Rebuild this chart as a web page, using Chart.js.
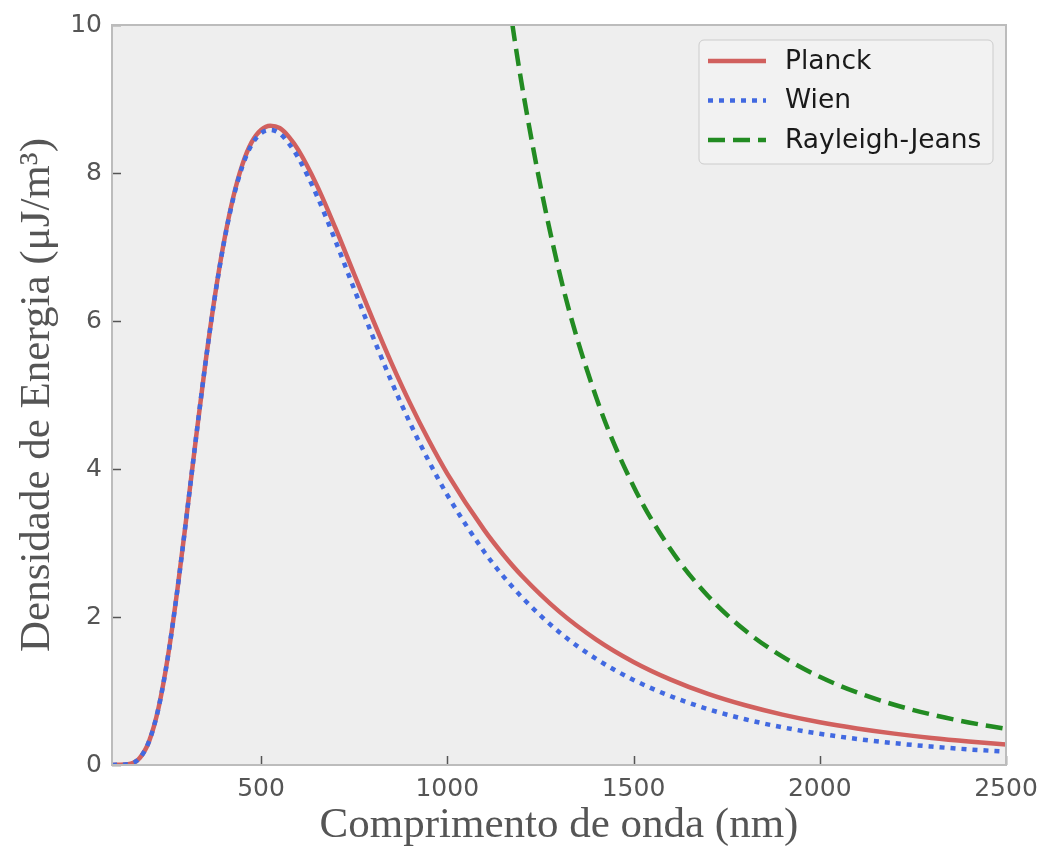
<!DOCTYPE html>
<html>
<head>
<meta charset="utf-8">
<script src="https://cdn.jsdelivr.net/npm/chart.js@4/dist/chart.umd.min.js"></script>
<style>
  body { margin: 0; background: #ffffff; }
  #grafico { display: block; }
</style>
</head>
<body>
<canvas id="grafico" width="1041" height="847"></canvas>
<script>
var lunghezzeOnda = [100, 150, 175, 200, 225, 250, 275, 300, 325, 350, 375, 400, 425, 450, 475, 500, 525, 550, 575, 600,
    650, 700, 750, 800, 850, 900, 950, 1000, 1100, 1150, 1200, 1300, 1400, 1500, 1600, 1700, 1800, 1900, 2000, 2100,
    2200, 2300, 2400, 2500];

// valori (uJ/m3)
var planck = [0, 0.018, 0.098, 0.326, 0.773, 1.46, 2.347, 3.357, 4.40, 5.40, 6.296, 7.055, 7.662, 8.113, 8.417, 8.583, 8.64, 8.608, 8.488, 8.312,
    7.833, 7.254, 6.635, 6.022, 5.435, 4.89, 4.391, 3.938, 3.17, 2.845, 2.558, 2.076, 1.695, 1.393, 1.154, 0.961, 0.807, 0.681, 0.578, 0.494,
    0.424, 0.366, 0.318, 0.277];
var wien = [0, 0.018, 0.098, 0.326, 0.773, 1.46, 2.347, 3.356, 4.399, 5.397, 6.29, 7.045, 7.646, 8.089, 8.383, 8.537, 8.581, 8.534, 8.398, 8.206,
    7.693, 7.081, 6.432, 5.793, 5.185, 4.623, 4.111, 3.65, 2.876, 2.553, 2.269, 1.798, 1.433, 1.15, 0.929, 0.755, 0.618, 0.509, 0.422, 0.352,
    0.295, 0.249, 0.211, 0.18];
var rayleighJeans = [null, null, null, null, null, null, null, null, null, null, null, null, null, null, null, null, null, null, null, null,
    null, null, null, null, null, null, null, null, 13.03, 10.91, 9.2, 6.679, 4.966, 3.768, 2.911, 2.284, 1.817, 1.464, 1.192, 0.981,
    0.814, 0.682, 0.575, 0.488];

var nomiSerie = ['Planck', 'Wien', 'Rayleigh-Jeans'];
var tickX = [500, 1000, 1500, 2000, 2500];
var tickY = [0, 2, 4, 6, 8, 10];

function creaPunti(valori) {    // trasforma le due liste in punti {x, y}
    var punti = [];
    for (var i = 0; i < lunghezzeOnda.length; i++) {
        punti.push({ x: lunghezzeOnda[i], y: valori[i] });
    }
    return punti;
}

// sfondo grigio, tacche interne e bordo dell'area del grafico
var pluginRiquadro = {
    id: 'riquadro',
    beforeDraw: function (chart) {
        var a = chart.chartArea;
        var ctx = chart.ctx;
        ctx.save();
        ctx.fillStyle = '#eeeeee';
        ctx.fillRect(a.left, a.top, a.right - a.left, a.bottom - a.top);
        ctx.restore();
    },
    afterDraw: function (chart) {
        var a = chart.chartArea;
        var ctx = chart.ctx;
        var sx = chart.scales.x, sy = chart.scales.y;
        ctx.save();
        ctx.strokeStyle = '#555555';
        ctx.lineWidth = 1.5;
        ctx.beginPath();
        tickX.forEach(function (v) {
            var px = Math.round(sx.getPixelForValue(v)) + 0.5;
            ctx.moveTo(px, a.bottom);
            ctx.lineTo(px, a.bottom - 9);
        });
        tickY.forEach(function (v) {
            var py = Math.round(sy.getPixelForValue(v)) + 0.5;
            ctx.moveTo(a.left, py);
            ctx.lineTo(a.left + 9, py);
        });
        ctx.stroke();
        ctx.strokeStyle = '#bcbcbc';
        ctx.lineWidth = 2;
        ctx.strokeRect(a.left, a.top, a.right - a.left, a.bottom - a.top);
        ctx.restore();
    }
};

// legenda dentro l'area, in alto a destra
var pluginLegenda = {
    id: 'legendaInterna',
    afterDraw: function (chart) {
        var ctx = chart.ctx;
        var a = chart.chartArea;
        var x0 = a.right - 307, y0 = a.top + 15, w = 294, h = 124;
        ctx.save();
        ctx.beginPath();
        ctx.roundRect(x0, y0, w, h, 5);
        ctx.fillStyle = 'rgba(242,242,242,0.9)';
        ctx.fill();
        ctx.strokeStyle = '#cccccc';
        ctx.lineWidth = 1;
        ctx.stroke();
        ctx.font = '26.5px "DejaVu Sans"';
        ctx.textBaseline = 'middle';
        chart.data.datasets.forEach(function (ds, i) {
            var yy = y0 + 21 + i * 39.5;
            ctx.beginPath();
            ctx.setLineDash(ds.borderDash || []);
            ctx.strokeStyle = ds.borderColor;
            ctx.lineWidth = ds.borderWidth;
            ctx.moveTo(x0 + 9, yy);
            ctx.lineTo(x0 + 67, yy);
            ctx.stroke();
            ctx.setLineDash([]);
            ctx.fillStyle = '#1a1a1a';
            ctx.fillText(ds.label, x0 + 86, yy + 1);
        });
        ctx.restore();
    }
};

var ctxGrafico = document.getElementById('grafico');
var grafico = new Chart(ctxGrafico, {
    type: 'line',
    data: {
        datasets: [{
            label: nomiSerie[0],
            data: creaPunti(planck),
            borderColor: '#d1605e',
            borderWidth: 4.5,
            order: 3
        }, {
            label: nomiSerie[1],
            data: creaPunti(wien),
            borderColor: '#4169e1',
            borderWidth: 4.5,
            borderDash: [5, 6],
            order: 2
        }, {
            label: nomiSerie[2],
            data: creaPunti(rayleighJeans),
            borderColor: '#228b22',
            borderWidth: 4.5,
            borderDash: [17, 8],
            order: 1
        }]
    },
    options: {
        responsive: false,
        animation: false,
        layout: { padding: { top: 25, right: 35, left: 0, bottom: 0 } },
        elements: {
            point: { radius: 0 },
            line: { cubicInterpolationMode: 'monotone', borderCapStyle: 'butt' }
        },
        datasets: { line: { clip: 0, spanGaps: false } },
        plugins: {
            legend: { display: false },
            tooltip: { enabled: false }
        },
        scales: {
            x: {
                type: 'linear',
                min: 100,
                max: 2500,
                afterBuildTicks: function (scale) {
                    scale.ticks = tickX.map(function (v) { return { value: v }; });
                },
                afterFit: function (scale) {
                    scale.height = 82;
                    scale.paddingLeft = 0;
                    scale.paddingRight = 0;
                },
                grid: { display: false, drawTicks: false },
                border: { display: false },
                ticks: {
                    color: '#555555', padding: 9, maxRotation: 0, font: { family: 'DejaVu Sans', size: 25 },
                    callback: function (v) { return String(v); }
                },
                title: {
                    display: true,
                    text: 'Comprimento de onda (nm)',
                    color: '#555555',
                    font: { family: 'Liberation Serif', size: 43, lineHeight: 1 },
                    padding: { top: 0, bottom: 0 }
                }
            },
            y: {
                min: 0,
                max: 10,
                afterBuildTicks: function (scale) {
                    scale.ticks = tickY.map(function (v) { return { value: v }; });
                },
                afterFit: function (scale) {
                    scale.width = 112;
                    scale.paddingTop = 0;
                    scale.paddingBottom = 0;
                },
                grid: { display: false, drawTicks: false },
                border: { display: false },
                ticks: {
                    color: '#555555', padding: 10, font: { family: 'DejaVu Sans', size: 25 },
                    callback: function (v) { return String(v); }
                },
                title: {
                    display: true,
                    text: 'Densidade de Energia (μJ/m³)',
                    color: '#555555',
                    font: { family: 'Liberation Serif', size: 43, lineHeight: 1 },
                    padding: { top: 16, bottom: 0 }
                }
            }
        }
    },
    plugins: [pluginRiquadro, pluginLegenda]
});
</script>
</body>
</html>
